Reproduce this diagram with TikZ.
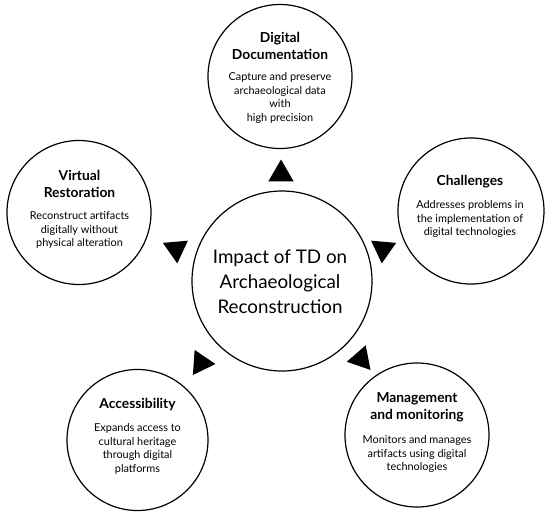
\documentclass[tikz,border=0pt]{standalone}
\usepackage{fontspec}
\setmainfont{Lato}
\usetikzlibrary{shapes.geometric}
\tikzset{
	ring/.style={draw, circle, line width=1.2pt, inner sep=0pt, minimum size=#1}
}
\tikzset{
	tri/.style={regular polygon, regular polygon sides=3, fill=black, inner sep=0pt, minimum size=29pt}
}
\tikzset{
	ttl/.style={align=center, font=\fontsize{13.8}{17.5}\selectfont\bfseries},
	bdy/.style={align=center, font=\fontsize{10.9}{13.4}\selectfont}
}

\begin{document}
\begin{tikzpicture}[x=1pt, y=-1pt]
      \useasboundingbox (0,0) rectangle (550,515);
      \foreach \n/\x/\y/\d in {
        dig/280/76.5/144, chal/471/211/146, virt/79/212.5/144,
        acc/137.5/440/141, mgmt/417/435/144, hub/282/281/180}
        \node[ring=\d pt] (\n) at (\x,\y) {};
      \foreach \n/\x/\y/\r in {
        tdig/281/174/0, tchal/383/249/175, tvirt/176/249/185,
        tacc/201/363/-94, tmgmt/361/359/101}
        \node[tri, rotate=\r] (\n) at (\x,\y) {};
      \node[align=center, font=\fontsize{18.8}{25}\selectfont] (hubtext) at (280,282)
        {Impact of TD on\\Archaeological\\Reconstruction};
      % titles
      \node[ttl] (digttl) at (280,46) {Digital\\Documentation};
      \node[ttl] (chalttl) at (470,182) {Challenges};
      \node[ttl] (virtttl) at (79.5,184) {Virtual\\Restoration};
      \node[ttl] (accttl) at (137.5,405) {Accessibility};
      \node[ttl] (mgmtttl) at (417,407.5) {Management\\and monitoring};
      % descriptions
      \node[bdy] (digtxt) at (280,98) {Capture and preserve\\archaeological data\\with\\high precision};
      \node[bdy] (chaltxt) at (470,219) {Addresses problems in\\the implementation of\\digital technologies};
      \node[bdy] (virttxt) at (79.5,230) {Reconstruct artifacts\\digitally without\\physical alteration};
      \node[bdy] (acctxt) at (137.5,449) {Expands access to\\cultural heritage\\through digital\\platforms};
      \node[bdy] (mgmttxt) at (417,454) {Monitors and manages\\artifacts using digital\\technologies};
\end{tikzpicture}
\end{document}
